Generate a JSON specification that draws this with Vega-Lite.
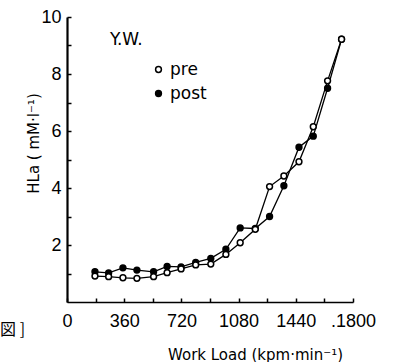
{
  "$schema": "https://vega.github.io/schema/vega-lite/v6.json",
  "width": 286,
  "height": 285,
  "autosize": {"type": "none"},
  "padding": {"left": 67, "top": 17, "right": 42, "bottom": 60},
  "background": "white",
  "config": {"view": {"stroke": null}, "font": "Liberation Sans"},
  "datasets": {
    "pts": [
      {"load": 176, "hla": 0.91, "test": "pre"},
      {"load": 262, "hla": 0.89, "test": "pre"},
      {"load": 352, "hla": 0.85, "test": "pre"},
      {"load": 440, "hla": 0.83, "test": "pre"},
      {"load": 545, "hla": 0.89, "test": "pre"},
      {"load": 630, "hla": 1.03, "test": "pre"},
      {"load": 718, "hla": 1.16, "test": "pre"},
      {"load": 810, "hla": 1.30, "test": "pre"},
      {"load": 905, "hla": 1.33, "test": "pre"},
      {"load": 1000, "hla": 1.67, "test": "pre"},
      {"load": 1090, "hla": 2.08, "test": "pre"},
      {"load": 1185, "hla": 2.55, "test": "pre"},
      {"load": 1275, "hla": 4.05, "test": "pre"},
      {"load": 1365, "hla": 4.42, "test": "pre"},
      {"load": 1460, "hla": 4.92, "test": "pre"},
      {"load": 1550, "hla": 6.15, "test": "pre"},
      {"load": 1640, "hla": 7.76, "test": "pre"},
      {"load": 1728, "hla": 9.22, "test": "pre"},
      {"load": 176, "hla": 1.06, "test": "post"},
      {"load": 262, "hla": 1.02, "test": "post"},
      {"load": 352, "hla": 1.20, "test": "post"},
      {"load": 440, "hla": 1.12, "test": "post"},
      {"load": 545, "hla": 1.06, "test": "post"},
      {"load": 630, "hla": 1.25, "test": "post"},
      {"load": 718, "hla": 1.23, "test": "post"},
      {"load": 810, "hla": 1.39, "test": "post"},
      {"load": 905, "hla": 1.53, "test": "post"},
      {"load": 1000, "hla": 1.85, "test": "post"},
      {"load": 1090, "hla": 2.60, "test": "post"},
      {"load": 1185, "hla": 2.58, "test": "post"},
      {"load": 1275, "hla": 3.00, "test": "post"},
      {"load": 1365, "hla": 4.08, "test": "post"},
      {"load": 1460, "hla": 5.43, "test": "post"},
      {"load": 1550, "hla": 5.82, "test": "post"},
      {"load": 1640, "hla": 7.50, "test": "post"},
      {"load": 1728, "hla": 9.22, "test": "post"}
    ],
    "notes": [
      {"load": -421, "hla": -0.98, "t": "図 ]"}
    ]
  },
  "layer": [
    {
      "data": {"name": "pts"},
      "mark": {"type": "line", "color": "black", "strokeWidth": 1.3},
      "encoding": {
        "x": {
          "field": "load", "type": "quantitative",
          "scale": {"domain": [0, 1800], "nice": false},
          "axis": {
            "values": [0, 180, 360, 540, 720, 900, 1080, 1260, 1440, 1620, 1800],
            "tickCount": 12,
            "labelExpr": "datum.value % 360 == 0 ? (datum.value == 1800 ? '.1800' : datum.label) : ''",
            "format": "d",
            "grid": false,
            "labelOverlap": false,
            "domainColor": "black", "domainWidth": 1.6,
            "ticks": true,
            "tickColor": "black", "tickWidth": 1.5,
            "tickSize": -4,
            "labelFont": "Liberation Sans", "labelFontSize": 18, "labelColor": "black",
            "labelPadding": 14, "labelFlush": false,
            "title": "Work  Load (kpm·min⁻¹)",
            "titleFont": "DejaVu Sans", "titleFontSize": 15, "titleFontWeight": "normal", "titleColor": "black",
            "titleX": 188, "titleY": 52, "titleAlign": "center", "titleBaseline": "middle"
          }
        },
        "y": {
          "field": "hla", "type": "quantitative",
          "scale": {"domain": [0, 10], "nice": false},
          "axis": {
            "values": [1, 2, 3, 4, 5, 6, 7, 8, 9, 10],
            "tickCount": 12,
            "labelExpr": "(datum.value == 2 || datum.value == 4 || datum.value == 6 || datum.value == 8 || datum.value == 10) ? datum.label : ''",
            "format": "d",
            "grid": false,
            "labelOverlap": false,
            "labelFlush": false,
            "domainColor": "black", "domainWidth": 2.2,
            "ticks": true,
            "tickColor": "black", "tickWidth": 1.5,
            "tickSize": -4,
            "labelFont": "Liberation Sans", "labelFontSize": 18, "labelColor": "black",
            "labelAlign": "right",
            "labelPadding": 10,
            "title": "HLa ( mM·l⁻¹)",
            "titleFont": "DejaVu Sans", "titleFontSize": 15, "titleFontWeight": "normal", "titleColor": "black",
            "titleX": -34, "titleY": 126, "titleAlign": "center", "titleBaseline": "middle"
          }
        },
        "detail": {"field": "test"}
      }
    },
    {
      "data": {"name": "pts"},
      "mark": {"type": "point", "shape": "circle", "size": 34, "filled": true, "stroke": "black", "strokeWidth": 1.5, "opacity": 1},
      "encoding": {
        "x": {"field": "load", "type": "quantitative"},
        "y": {"field": "hla", "type": "quantitative"},
        "fill": {
          "field": "test", "type": "nominal",
          "scale": {"domain": ["pre", "post"], "range": ["white", "black"]},
          "legend": {
            "orient": "none", "legendX": 43, "legendY": 15,
            "title": "Y.W.", "titleFont": "DejaVu Sans", "titleFontSize": 17, "titleFontWeight": "normal", "titleColor": "black",
            "titlePadding": 12,
            "symbolType": "circle", "symbolSize": 34, "symbolStrokeColor": "black", "symbolStrokeWidth": 1.5,
            "symbolOffset": 40,
            "labelFont": "DejaVu Sans", "labelFontSize": 17, "labelColor": "black", "labelOffset": 3,
            "rowPadding": 6
          }
        },
        "order": {"field": "test", "sort": "ascending"}
      }
    },
    {
      "data": {"name": "notes"},
      "mark": {"type": "text", "align": "left", "baseline": "middle", "font": "Noto Sans CJK JP", "fontSize": 16, "color": "black", "clip": false},
      "encoding": {
        "x": {"field": "load", "type": "quantitative"},
        "y": {"field": "hla", "type": "quantitative"},
        "text": {"field": "t"}
      }
    }
  ]
}
